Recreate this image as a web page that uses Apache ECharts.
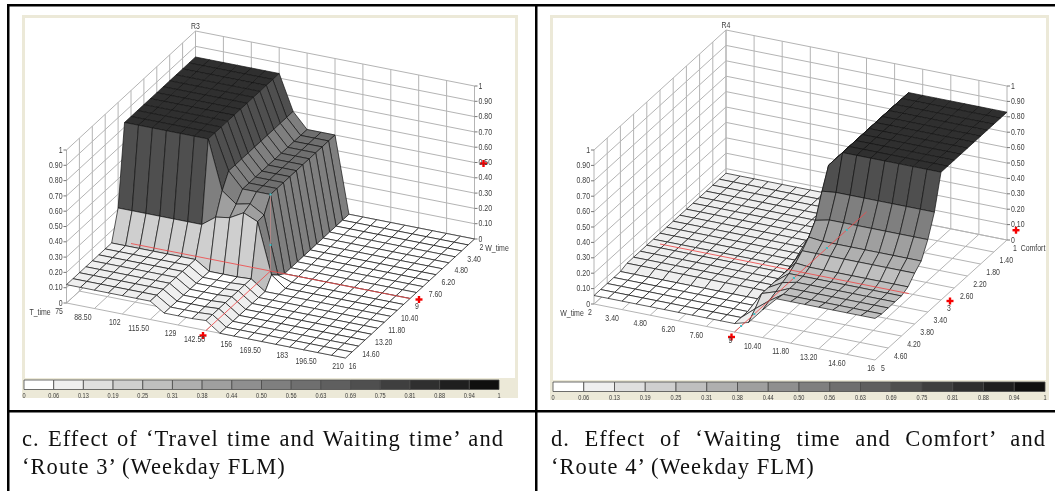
<!DOCTYPE html>
<html><head><meta charset="utf-8">
<style>
html,body{margin:0;padding:0;background:#fff;overflow:hidden}
#c{position:absolute;left:0;top:0;width:1055px;height:491px}
.cap{position:absolute;font-family:"Liberation Serif",serif;font-size:22.5px;letter-spacing:1.05px;color:#111;white-space:nowrap;line-height:28px}
.cap.j{white-space:normal;text-align:justify;text-align-last:justify}
</style>
<script src="https://cdn.jsdelivr.net/npm/echarts@6/dist/echarts.min.js"></script>
</head><body>
<div id="c"></div>
<div class="cap j" style="left:22px;top:425px;width:482px">c. Effect of ‘Travel time and Waiting time’ and</div>
<div class="cap" style="left:22px;top:453px">‘Route 3’ (Weekday FLM)</div>
<div class="cap j" style="left:551px;top:425px;width:495px">d. Effect of ‘Waiting time and Comfort’ and</div>
<div class="cap" style="left:551px;top:453px">‘Route 4’ (Weekday FLM)</div>
<script>
// ---------- tick labels ----------
const zLabels = ['0','0.10','0.20','0.30','0.40','0.50','0.60','0.70','0.80','0.90','1'];
const legendLabels = ['0','0.06','0.13','0.19','0.25','0.31','0.38','0.44','0.50','0.56','0.63','0.69','0.75','0.81','0.88','0.94','1'];
const bandColors = ['#ffffff','#efefef','#dfdfdf','#cfcfcf','#bfbfbf','#afafaf','#9f9f9f','#8f8f8f','#7f7f7f','#6f6f6f','#5f5f5f','#4f4f4f','#3f3f3f','#2f2f2f','#1f1f1f','#0f0f0f'];
const r3TimeLabels = ['75','88.50','102','115.50','129','142.50','156','169.50','183','196.50','210'];
const r3WaitLabels = ['2','3.40','4.80','6.20','7.60','9','10.40','11.80','13.20','14.60','16'];
const r4WaitLabels = ['2','3.40','4.80','6.20','7.60','9','10.40','11.80','13.20','14.60','16'];
const r4ComfortLabels = ['1','1.40','1.80','2.20','2.60','3','3.40','3.80','4.20','4.60','5'];

// ---------- surface values: rows follow the second axis, columns the first ----------
const r3Surface = [
 [.83,.83,.83,.83,.83,.83,.83,.60,.50,.50,.50,0,0,0,0,0,0,0,0,0,0],
 [.83,.83,.83,.83,.83,.83,.83,.60,.50,.50,.50,0,0,0,0,0,0,0,0,0,0],
 [.83,.83,.83,.83,.83,.83,.83,.60,.50,.50,.50,0,0,0,0,0,0,0,0,0,0],
 [.83,.83,.83,.83,.83,.83,.83,.60,.50,.50,.50,0,0,0,0,0,0,0,0,0,0],
 [.83,.83,.83,.83,.83,.83,.83,.60,.50,.50,.50,0,0,0,0,0,0,0,0,0,0],
 [.83,.83,.83,.83,.83,.83,.83,.60,.50,.50,.50,0,0,0,0,0,0,0,0,0,0],
 [.83,.83,.83,.83,.83,.83,.83,.60,.50,.50,.50,0,0,0,0,0,0,0,0,0,0],
 [.83,.83,.83,.83,.83,.83,.83,.60,.50,.50,.50,0,0,0,0,0,0,0,0,0,0],
 [.83,.83,.83,.83,.83,.83,.83,.60,.50,.50,.50,0,0,0,0,0,0,0,0,0,0],
 [.83,.83,.83,.83,.83,.83,.83,.60,.50,.50,.50,0,0,0,0,0,0,0,0,0,0],
 [.83,.83,.83,.83,.83,.83,.83,.60,.50,.50,.50,0,0,0,0,0,0,0,0,0,0],
 [.83,.83,.83,.83,.83,.83,.83,.51,.44,.46,.405,.03,0,0,0,0,0,0,0,0,0],
 [.31,.31,.31,.31,.31,.31,.31,.376,.39,.44,.40,.07,0,0,0,0,0,0,0,0,0],
 [.12,.12,.12,.12,.12,.12,.12,.06,.06,.06,.065,0,0,0,0,0,0,0,0,0,0],
 [.12,.12,.12,.12,.12,.12,.12,.06,.06,.06,.065,0,0,0,0,0,0,0,0,0,0],
 [.12,.12,.12,.12,.12,.12,.12,.06,.06,.06,.065,0,0,0,0,0,0,0,0,0,0],
 [.12,.12,.12,.12,.12,.12,.12,.06,.06,.06,.065,0,0,0,0,0,0,0,0,0,0],
 [.12,.12,.12,.12,.12,.12,.12,.06,.06,.06,.065,0,0,0,0,0,0,0,0,0,0],
 [.12,.12,.12,.12,.12,.12,.12,.06,.06,.06,.065,0,0,0,0,0,0,0,0,0,0],
 [.12,.12,.12,.12,.12,.12,.12,.06,.06,.06,.065,0,0,0,0,0,0,0,0,0,0],
 [.12,.12,.12,.12,.12,.12,.12,.06,.06,.06,.065,0,0,0,0,0,0,0,0,0,0]
];
const r4Surface = [
 [.07,.07,.07,.07,.07,.07,.07,.07,.07,.07,.07,.07,.73,.83,.83,.83,.83,.83,.83,.83,.83],
 [.07,.07,.07,.07,.07,.07,.07,.07,.07,.07,.07,.07,.73,.83,.83,.83,.83,.83,.83,.83,.83],
 [.07,.07,.07,.07,.07,.07,.07,.07,.07,.07,.07,.07,.73,.83,.83,.83,.83,.83,.83,.83,.83],
 [.07,.07,.07,.07,.07,.07,.07,.07,.07,.07,.07,.07,.73,.83,.83,.83,.83,.83,.83,.83,.83],
 [.07,.07,.07,.07,.07,.07,.07,.07,.07,.07,.07,.07,.73,.83,.83,.83,.83,.83,.83,.83,.83],
 [.07,.07,.07,.07,.07,.07,.07,.07,.07,.07,.07,.07,.73,.83,.83,.83,.83,.83,.83,.83,.83],
 [.07,.07,.07,.07,.07,.07,.07,.07,.07,.07,.07,.07,.73,.83,.83,.83,.83,.83,.83,.83,.83],
 [.07,.07,.07,.07,.07,.07,.07,.07,.07,.07,.07,.07,.73,.83,.83,.83,.83,.83,.83,.83,.83],
 [.07,.07,.07,.07,.07,.07,.07,.07,.07,.07,.07,.07,.73,.83,.83,.83,.83,.83,.83,.83,.83],
 [.07,.07,.07,.07,.07,.07,.07,.07,.07,.07,.07,.07,.73,.83,.83,.83,.83,.83,.83,.83,.83],
 [.07,.07,.07,.07,.07,.07,.07,.07,.07,.07,.07,.07,.73,.83,.83,.83,.83,.83,.83,.83,.83],
 [.07,.07,.07,.07,.07,.07,.07,.07,.07,.07,.07,.07,.60,.61,.61,.61,.61,.61,.61,.61,.61],
 [.07,.07,.07,.07,.07,.07,.07,.07,.07,.07,.07,.20,.45,.47,.47,.47,.47,.47,.47,.47,.47],
 [.07,.07,.07,.07,.07,.07,.07,.07,.07,.07,.07,.21,.38,.37,.37,.37,.37,.37,.37,.37,.37],
 [.07,.07,.07,.07,.07,.07,.07,.07,.07,.07,.07,.19,.33,.33,.33,.33,.33,.33,.33,.33,.33],
 [.07,.07,.07,.07,.07,.07,.07,.07,.07,.07,.07,.19,.29,.28,.28,.28,.28,.28,.28,.28,.28],
 [.055,.055,.055,.055,.055,.055,.055,.055,.055,.055,.055,.19,.26,.26,.26,.26,.26,.26,.26,.26,.26],
 [.055,.055,.055,.055,.055,.055,.055,.055,.055,.055,.055,.19,.24,.26,.26,.26,.26,.26,.26,.26,.26],
 [.055,.055,.055,.055,.055,.055,.055,.055,.055,.055,.055,.19,.22,.26,.26,.26,.26,.26,.26,.26,.26],
 [.055,.055,.055,.055,.055,.055,.055,.055,.055,.055,.055,.13,.20,.26,.26,.26,.26,.26,.26,.26,.26],
 [.055,.055,.055,.055,.055,.055,.055,.055,.055,.055,.055,.08,.18,.27,.27,.27,.27,.27,.27,.27,.27]
];
const r3ShadeOverrides = [[0,5,11,11,.72],[10,10,0,11,.5],[8,9,0,9,.58],[10,10,12,12,.28],[10,10,13,19,.08]];
const r4ShadeOverrides = [];

// ---------- cursor readings ----------
const r3Cursor = {a:142.5, b:9, z:.5, wLineEnd:210, stem:.5, dots:[[142.5,9,.5],[142.5,9,.17]]};
const r4Cursor = {a:9, b:3, z:.07, wLineEnd:14.4, stem:0, dots:[[9,4.8,0],[9,4.4,0],[9,3.2,0],[9,2.2,0],[9,1.6,0]]};

// ---------- layout only ----------
const views = [
 {title:'R3', surface:r3Surface, overrides:r3ShadeOverrides, cursor:r3Cursor,
  aLabels:r3TimeLabels, bLabels:r3WaitLabels, aName:'T_time', bName:'W_time',
  back:[195.5,184], aVec:[279,55], bVec:[-129,119], h:153,
  aOff:[-7.5,-11.5], bOff:[7,12.5], aNamePos:[40,312], bNamePos:[497,248],
  frame:[22,15,496,383], white:[25,18,490,360], bar:[24,380,475,9.5]},
 {title:'R4', surface:r4Surface, overrides:r4ShadeOverrides, cursor:r4Cursor,
  aLabels:r4WaitLabels, bLabels:r4ComfortLabels, aName:'W_time', bName:'Comfort',
  back:[726,184], aVec:[281,56], bVec:[-132,120], h:154,
  aOff:[-4,-10], bOff:[8,12.5], aNamePos:[572,313], bNamePos:[1033,248],
  frame:[550,15,499,385], white:[553,18,493,362], bar:[553,382,492,9.5]}
];
const FONT = '9.5px "Liberation Sans",sans-serif';
const SMALL = '7px "Liberation Sans",sans-serif';
const TEXT = '#3c3c3c', WALL = '#b4b4b4', MESH = '#141414', RED = '#ee4b4b';

const num = s => parseFloat(s);
function projector(v){
  const a0=num(v.aLabels[0]), a1=num(v.aLabels[10]), b0=num(v.bLabels[0]), b1=num(v.bLabels[10]);
  return (a,b,z)=>{
    const fa=(a-a0)/(a1-a0), fb=(b-b0)/(b1-b0);
    return [v.back[0]+fa*v.aVec[0]+fb*v.bVec[0], v.back[1]+fa*v.aVec[1]+fb*v.bVec[1]-z*v.h];
  };
}

function segSeries(name, segs, color, width, z, opacity){
  return {name, type:'custom', coordinateSystem:'cartesian2d', z, silent:true, animation:false,
    data:segs.map((s,i)=>[i,0]),
    renderItem:(p,api)=>{
      const s=segs[p.dataIndex], c0=api.coord(s[0]), c1=api.coord(s[1]);
      return {type:'line', shape:{x1:c0[0],y1:c0[1],x2:c1[0],y2:c1[1]},
        style:{stroke:color,lineWidth:width,opacity:opacity==null?1:opacity}};
    }};
}
function textSeries(name, items, z){
  return {name, type:'custom', coordinateSystem:'cartesian2d', z, silent:true, animation:false,
    data:items.map((s,i)=>[i,0]),
    renderItem:(p,api)=>{
      const t=items[p.dataIndex], c=api.coord([t.x,t.y]);
      return {type:'text', x:c[0], y:c[1], scaleX:t.font?.8:.73,
        style:{text:t.text,x:0,y:0,font:t.font||FONT,fill:TEXT,align:t.align||'center',verticalAlign:'middle'}};
    }};
}

const series=[], graphic=[];
views.forEach(v=>{
  const P=projector(v);
  const aVals=v.aLabels.map(num), bVals=v.bLabels.map(num), zVals=zLabels.map(num);
  const a0=aVals[0],a1=aVals[10],b0=bVals[0],b1=bVals[10];

  // backdrop
  graphic.push({type:'rect',z:-3,silent:true,shape:{x:v.frame[0],y:v.frame[1],width:v.frame[2],height:v.frame[3]},style:{fill:'#ece9d8'}});
  graphic.push({type:'rect',z:-2,silent:true,shape:{x:v.white[0],y:v.white[1],width:v.white[2],height:v.white[3]},style:{fill:'#ffffff'}});

  // walls + floor grid
  const segs=[];
  zVals.forEach(z=>{ segs.push([P(a0,b1,z),P(a0,b0,z)]); segs.push([P(a0,b0,z),P(a1,b0,z)]); });
  bVals.forEach(b=>{ segs.push([P(a0,b,0),P(a0,b,1)]); segs.push([P(a0,b,0),P(a1,b,0)]); });
  aVals.forEach(a=>{ segs.push([P(a,b0,0),P(a,b0,1)]); segs.push([P(a,b0,0),P(a,b1,0)]); });
  series.push(segSeries(v.title+' walls',segs,WALL,1,2));

  // z ticks
  const ticks=[];
  zVals.forEach(z=>{
    const l=P(a0,b1,z), r=P(a1,b0,z);
    ticks.push([[l[0]-3,l[1]],l]); ticks.push([r,[r[0]+3,r[1]]]);
  });
  series.push(segSeries(v.title+' ticks',ticks,'#777',1,2));

  // surface: back to front
  const cells=[];
  for(let i=0;i<20;i++) for(let j=0;j<20;j++) cells.push([i,j]);
  const aAt=i=>a0+(a1-a0)*i/20, bAt=j=>b0+(b1-b0)*j/20;
  series.push({name:v.title+' surface',type:'custom',coordinateSystem:'cartesian2d',z:3,silent:true,animation:false,
    data:cells,
    renderItem:(p,api)=>{
      const [i,j]=cells[p.dataIndex], S=v.surface;
      const zz=[S[j][i],S[j][i+1],S[j+1][i+1],S[j+1][i]];
      let shade=(zz[0]+zz[1]+zz[2]+zz[3])/4;
      v.overrides.forEach(o=>{ if(i>=o[0]&&i<=o[1]&&j>=o[2]&&j<=o[3]) shade=o[4]; });
      const k=Math.min(15,Math.floor(shade*16+1e-9));
      const pts=[P(aAt(i),bAt(j),zz[0]),P(aAt(i+1),bAt(j),zz[1]),P(aAt(i+1),bAt(j+1),zz[2]),P(aAt(i),bAt(j+1),zz[3])].map(q=>api.coord(q));
      return {type:'polygon',shape:{points:pts},style:{fill:bandColors[k],stroke:MESH,lineWidth:.7,lineJoin:'round'}};
    }});

  // cursor lines
  const cu=v.cursor, cross=P(cu.a,cu.b,0);
  const red=[[P(a0,cu.b,0),P(cu.wLineEnd,cu.b,0)],[P(cu.a,b1,0),P(cu.a,cu.stem?cu.b:b0,0)]];
  series.push(segSeries(v.title+' cursor',red,RED,1,4,.85));
  if(cu.stem) series.push(segSeries(v.title+' stem',[[cross,P(cu.a,cu.b,cu.stem)]],'#b98a8a',1,4,.8));
  series.push({name:v.title+' dots',type:'custom',coordinateSystem:'cartesian2d',z:5,silent:true,animation:false,
    data:cu.dots.map((d,i)=>[i,0]),
    renderItem:(p,api)=>{
      const d=cu.dots[p.dataIndex], c=api.coord(P(d[0],d[1],d[2]));
      return {type:'rect',shape:{x:c[0]-1,y:c[1]-1,width:2,height:2},style:{fill:'#3cbcc4'}};
    }});

  // red plus markers
  const tickA=P(cu.a,b1,0), tickB=P(a1,cu.b,0), tickZ=P(a1,b0,cu.z);
  const marks=[[tickA[0]-3,tickA[1]+5],[tickB[0]+9,tickB[1]+1],[tickZ[0]+9,tickZ[1]+1]];
  series.push({name:v.title+' markers',type:'custom',coordinateSystem:'cartesian2d',z:6,silent:true,animation:false,
    data:marks.map((m,i)=>[i,0]),
    renderItem:(p,api)=>{
      const c=api.coord(marks[p.dataIndex]);
      return {type:'group',children:[
        {type:'rect',shape:{x:c[0]-3.5,y:c[1]-1.2,width:7,height:2.4},style:{fill:'#f50000'}},
        {type:'rect',shape:{x:c[0]-1.2,y:c[1]-3.5,width:2.4,height:7},style:{fill:'#f50000'}}
      ]};
    }});

  // texts
  const texts=[];
  zLabels.forEach((t,n)=>{
    const l=P(a0,b1,zVals[n]), r=P(a1,b0,zVals[n]);
    texts.push({text:t,x:l[0]-4,y:l[1],align:'right'});
    texts.push({text:t,x:r[0]+4,y:r[1],align:'left'});
  });
  v.aLabels.forEach((t,n)=>{
    const q=P(aVals[n],b1,0), o=t.length>3?v.aOff[1]:v.aOff[0];
    texts.push({text:t,x:q[0]+o,y:q[1]+8.5});
  });
  v.bLabels.forEach((t,n)=>{
    const q=P(a1,bVals[n],0), o=t.length>3?v.bOff[1]:v.bOff[0];
    texts.push({text:t,x:q[0]+o,y:q[1]+8});
  });
  const top=P(a0,b0,1);
  texts.push({text:v.title,x:top[0],y:top[1]-5});
  texts.push({text:v.aName,x:v.aNamePos[0],y:v.aNamePos[1]});
  texts.push({text:v.bName,x:v.bNamePos[0],y:v.bNamePos[1]});
  // legend
  const [bx,by,bw,bh]=v.bar;
  const stepX=bw/bandColors.length;
  series.push({name:v.title+' legend',type:'custom',coordinateSystem:'cartesian2d',z:3,silent:true,animation:false,
    data:bandColors.map((c,i)=>[i,0]),
    renderItem:(p,api)=>{
      const c0=api.coord([bx+p.dataIndex*stepX,by]), c1=api.coord([bx+(p.dataIndex+1)*stepX,by+bh]);
      return {type:'rect',shape:{x:c0[0],y:c0[1],width:c1[0]-c0[0],height:c1[1]-c0[1]},
        style:{fill:bandColors[p.dataIndex],stroke:'#4a4a4a',lineWidth:.8}};
    }});
  legendLabels.forEach((t,n)=>{
    texts.push({text:t,x:bx+n*stepX,y:by+bh+6.5,font:SMALL});
  });
  series.push(textSeries(v.title+' labels',texts,7));
});

// table rules
[[7,4,1048,2.5],[7,4,2.5,487],[535,4,2.5,487],[7,410,1048,2.5]].forEach(r=>{
  graphic.push({type:'rect',z:-1,silent:true,shape:{x:r[0],y:r[1],width:r[2],height:r[3]},style:{fill:'#000'}});
});

const chart=echarts.init(document.getElementById('c'),null,{renderer:'canvas'});
chart.setOption({
  animation:false, backgroundColor:'#fff',
  grid:{left:0,top:0,right:0,bottom:0},
  xAxis:{type:'value',min:0,max:1055,show:false},
  yAxis:{type:'value',min:0,max:491,inverse:true,show:false},
  tooltip:{show:false}, graphic, series
});
</script>
</body></html>
